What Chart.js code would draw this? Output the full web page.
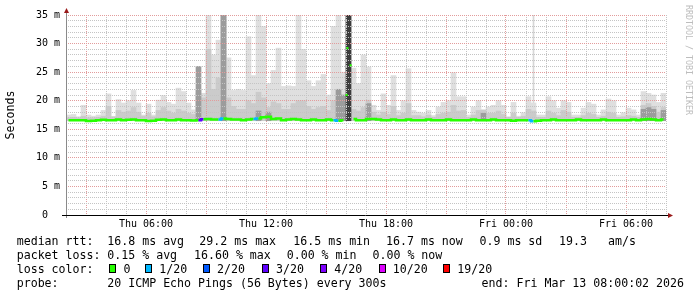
<!DOCTYPE html>
<html lang="en">
<head>
    <meta charset="UTF-8">
    <script src="https://cdn.jsdelivr.net/npm/chart.js@4.4.1/dist/chart.umd.min.js"></script>
    <title>SmokePing latency</title>
    <style>
        body { margin: 0; background: #fff; }
        #wrap { position: relative; width: 697px; height: 297px; font-family: "DejaVu Sans Mono", monospace; }
        #chart { position: absolute; left: 0; top: 0; }
        .t { position: absolute; font-size: 11.6px; line-height: 14px; white-space: pre; color: #000; }
        .box { position: absolute; width: 5px; height: 7px; border: 1px solid #000; }
        .wm { position: absolute; left: 684px; top: 5px; font-size: 8.3px; color: #bdbdbd; writing-mode: vertical-rl; white-space: pre; }
    </style>
</head>
<body>
<div id="wrap">
    <canvas id="chart"></canvas>
    <div class="wm">RRDTOOL / TOBI OETIKER</div>

    <div class="t" style="left:16.7px;top:234.3px">median rtt:</div>
    <div class="t" style="left:107.3px;top:234.3px">16.8 ms avg</div>
    <div class="t" style="left:199.3px;top:234.3px">29.2 ms max</div>
    <div class="t" style="left:293.3px;top:234.3px">16.5 ms min</div>
    <div class="t" style="left:386px;top:234.3px">16.7 ms now</div>
    <div class="t" style="left:479.5px;top:234.3px">0.9 ms sd</div>
    <div class="t" style="left:559px;top:234.3px">19.3</div>
    <div class="t" style="left:608px;top:234.3px">am/s</div>

    <div class="t" style="left:16.7px;top:248.3px">packet loss:</div>
    <div class="t" style="left:107.3px;top:248.3px">0.15 % avg</div>
    <div class="t" style="left:194px;top:248.3px">16.60 % max</div>
    <div class="t" style="left:286.7px;top:248.3px">0.00 % min</div>
    <div class="t" style="left:372.5px;top:248.3px">0.00 % now</div>

    <div class="t" style="left:16.7px;top:262.3px">loss color:</div>
    <div id="lossLegend"></div>

    <div class="t" style="left:16.7px;top:276.3px">probe:</div>
    <div class="t" style="left:107.3px;top:276.3px">20 ICMP Echo Pings (56 Bytes) every 300s</div>
    <div class="t" style="right:13px;top:276.3px">end: Fri Mar 13 08:00:02 2026</div>
</div>

<script>
    // 15 minute bins from Thu 02:00 to Fri 08:00 (30 h)
    const startHour = 2;
    const spanHours = 30;
    const smokeFloor = 16.5;

    const median = [
        16.6,16.6,16.6,16.6,16.45,16.5,16.6,16.65,16.6,16.6,
        16.7,16.6,16.65,16.7,16.6,16.6,16.45,16.5,16.65,16.7,
        16.6,16.6,16.7,16.6,16.6,16.55,16.6,16.75,16.8,16.7,
        16.7,16.9,16.8,16.7,16.7,16.6,16.7,16.8,16.9,17.1,
        17.2,16.8,16.9,16.6,16.7,16.8,16.7,16.6,16.6,16.7,
        16.6,16.6,16.7,16.6,16.5,16.6,null,16.8,16.6,16.6,
        16.8,16.8,16.7,16.6,16.6,16.7,16.6,16.6,16.7,16.6,
        16.6,16.6,16.7,16.6,16.6,16.6,16.7,16.6,16.6,16.6,
        16.6,16.7,16.6,16.6,16.6,16.7,16.6,16.6,16.6,16.5,
        16.6,16.6,16.6,16.4,16.5,16.6,16.6,16.7,16.6,16.6,
        16.6,16.6,16.7,16.6,16.6,16.6,16.6,16.7,16.6,16.6,
        16.6,16.6,16.6,16.7,16.6,16.7,16.8,16.7,16.6,16.7
    ];

    // highest ping per bin (light smoke)
    const smokeMax = [
        17.5,17.6,17.2,19.2,17.5,17.3,17.5,18.3,21.2,17.2,
        20.2,19.6,20.0,21.8,19.6,17.5,19.4,17.5,20.1,20.9,
        19.7,19.4,22.2,21.6,19.6,18.4,21.3,21.3,35,28,
        30.6,35,27.5,21.8,22.0,21.8,31.2,24.4,35,33,
        23,25.3,29.2,22.5,22.6,22.5,35,29,23.5,22.5,
        23.5,24.6,21,33,35,25,35,25.7,23,28,
        25.9,19.2,18.3,21.2,19.2,24.4,18.3,20,25.6,18.3,
        18.0,17.8,18.3,17.4,18.9,19.7,20,24.9,20.7,20.7,
        17.5,18.9,20,18.3,18.9,19.2,20,19.2,17.2,19.7,
        17.3,17.9,20.7,19.6,17.5,17.5,20.7,20,18.7,20,
        19.7,17.5,17.5,18.7,19.7,19.4,17.5,18.4,20.3,20,
        17.5,17.9,18.7,18.4,17.5,21.6,21.3,21,19.7,21.3
    ];

    // upper pings (medium smoke)
    const smokeMid = [
        17.0,17.1,17.0,17.3,17.0,17.0,17.1,17.3,19.0,17.2,
        18.3,18.0,18.2,18.8,18.0,17.3,17.8,17.2,18.3,18.8,
        18.2,17.8,18.5,18.2,17.8,17.6,22,20.5,29,22,
        24,35,20.5,19,18.5,18.5,20,19.5,21.5,20.5,
        18.8,19.8,19.5,18.5,18.5,19.5,20,20,19,18.5,
        18.8,19,18.3,20,20.5,19,35,18.5,18.2,18.8,
        20.1,18.0,17.5,18,17.6,19,17.4,17.8,19.5,17.4,
        17.4,17.2,17.5,17.1,17.6,17.8,18,19.2,18.2,18.3,
        17.1,17.5,18.3,18.4,17.8,17.8,18.2,17.6,17.1,17.8,
        17.1,17.3,18.5,18.2,17.1,17.1,18.2,17.8,17.4,18.3,
        18,17.1,17.1,17.4,17.8,17.6,17.1,17.3,18,17.8,
        17.1,17.2,17.4,17.3,17.1,19.2,19.5,19,18,18.8
    ];

    // dense smoke where most pings were slow
    const darkBins = [26, 31, 38, 40, 54, 55, 60, 83, 115, 116, 117, 119];
    const darkTop  = [26, 35, 18.2, 18.0, 22, 21, 19.5, 17.8, 18.5, 18.8, 18.5, 18.3];
    const blackBins = [56];
    const blackTop  = [35];
    const thinBins = [93];
    const thinTop  = [35];

    // median values inside the spike bin (hours since start)
    const spikeHours = [14.03, 14.07, 14.23];
    const spikeMedian = [21, 29.2, 26.2];

    const lossLabels = ['0', '1/20', '2/20', '3/20', '4/20', '10/20', '19/20'];
    const lossColors = ['#26ff00', '#00b8ff', '#0059ff', '#5e00ff', '#7e00ff', '#dd00ff', '#ff0000'];
    const lossBins  = [26, 30, 37, 53, 92];
    const lossLevel = [3, 1, 1, 1, 1];

    const binLabels = smokeMax.map((v, i) => i);
    const sparse = (bins, tops) => binLabels.map(i => {
        const k = bins.indexOf(i);
        return k < 0 ? null : tops[k];
    });
    const lossAt = i => {
        const k = lossBins.indexOf(i);
        return k < 0 ? 0 : lossLevel[k];
    };

    // loss color legend
    const boxX = [109.3, 145, 202.7, 261.7, 320, 378.5, 443];
    const legend = document.getElementById('lossLegend');
    lossLabels.forEach((lab, i) => {
        const b = document.createElement('div');
        b.className = 'box';
        b.style.left = boxX[i] + 'px';
        b.style.top = '263.5px';
        b.style.background = lossColors[i];
        legend.appendChild(b);
        const t = document.createElement('div');
        t.className = 't';
        t.style.left = (boxX[i] + 14.3) + 'px';
        t.style.top = '262.3px';
        t.textContent = lab;
        legend.appendChild(t);
    });

    function smokeBars(tops, color, order, extra) {
        return Object.assign({
            type: 'bar',
            data: tops.map(v => v == null ? null : [smokeFloor, v]),
            backgroundColor: color,
            borderWidth: 0,
            grouped: false,
            barPercentage: 1,
            categoryPercentage: 1,
            order: order,
            xAxisID: 'x',
            yAxisID: 'y'
        }, extra || {});
    }

    const majorGrid = '#e29c9c';
    const minorGrid = '#c4c4c4';

    const gridOnTop = {
        id: 'gridOnTop',
        beforeDraw(chart) { chart.$gridDone = false; },
        beforeDatasetDraw(chart, args) {
            if (args.meta.type !== 'line' || chart.$gridDone) return;
            chart.$gridDone = true;
            chart.scales.xt.drawGrid(chart.chartArea);
            chart.scales.y.drawGrid(chart.chartArea);
        }
    };

    const axes = {
        id: 'axes',
        afterDraw(chart) {
            const ctx = chart.ctx, a = chart.chartArea;
            ctx.save();
            ctx.lineWidth = 1;
            ctx.strokeStyle = '#8a8a8a';
            ctx.beginPath();
            ctx.moveTo(a.left + 0.5, a.bottom + 3);
            ctx.lineTo(a.left + 0.5, a.top - 3);
            ctx.stroke();
            ctx.strokeStyle = '#000';
            ctx.beginPath();
            ctx.moveTo(a.left - 4, a.bottom + 0.5);
            ctx.lineTo(a.right + 3, a.bottom + 0.5);
            ctx.stroke();
            ctx.fillStyle = '#9a1a1a';
            ctx.beginPath();
            ctx.moveTo(a.left - 2, a.top - 2);
            ctx.lineTo(a.left + 3, a.top - 2);
            ctx.lineTo(a.left + 0.5, a.top - 7);
            ctx.closePath();
            ctx.fill();
            ctx.beginPath();
            ctx.moveTo(a.right + 2, a.bottom - 2);
            ctx.lineTo(a.right + 2, a.bottom + 3);
            ctx.lineTo(a.right + 7, a.bottom + 0.5);
            ctx.closePath();
            ctx.fill();
            ctx.restore();
        }
    };

    Chart.defaults.font.family = '"DejaVu Sans Mono", monospace';

    new Chart(document.getElementById('chart'), {
        type: 'bar',
        data: {
            labels: binLabels,
            datasets: [
                {
                    type: 'line',
                    data: spikeHours.map((h, i) => ({ x: h, y: spikeMedian[i] })),
                    showLine: false,
                    pointStyle: 'rect',
                    pointRadius: 1.5,
                    pointBackgroundColor: lossColors[0],
                    pointBorderWidth: 0,
                    xAxisID: 'xt',
                    yAxisID: 'y',
                    order: 0
                },
                {
                    type: 'line',
                    data: median.map((v, i) => ({ x: (i + 0.5) / 4, y: v })),
                    borderColor: lossColors[0],
                    borderWidth: 2.5,
                    pointRadius: 0,
                    stepped: 'middle',
                    spanGaps: false,
                    segment: {
                        borderColor: c => lossColors[lossAt(c.p0DataIndex)]
                    },
                    xAxisID: 'xt',
                    yAxisID: 'y',
                    order: 1
                },
                smokeBars(sparse(blackBins, blackTop), '#3c3c3c', 2),
                smokeBars(sparse(darkBins, darkTop), '#9c9c9c', 3),
                smokeBars(smokeMid, '#cbcbcb', 4),
                smokeBars(smokeMax, '#dfdfdf', 5),
                smokeBars(sparse(thinBins, thinTop), '#d6d6d6', 6, { barThickness: 1 })
            ]
        },
        options: {
            responsive: true,
            maintainAspectRatio: false,
            animation: false,
            devicePixelRatio: 1,
            layout: { padding: { left: 0, top: 15, right: 31, bottom: 62 } },
            plugins: { legend: { display: false }, tooltip: { enabled: false } },
            scales: {
                x: {
                    type: 'category',
                    display: false,
                    offset: true
                },
                xt: {
                    type: 'linear',
                    position: 'bottom',
                    offset: false,
                    min: 0,
                    max: spanHours,
                    afterFit: s => { s.height = 20; },
                    grid: {
                        offset: false,
                        drawTicks: false,
                        color: c => (c.tick && (c.tick.value + startHour) % 3 === 0) ? majorGrid : minorGrid
                    },
                    border: { display: false, dash: [1, 1] },
                    ticks: {
                        stepSize: 1,
                        autoSkip: false,
                        maxRotation: 0,
                        padding: 3,
                        color: '#000',
                        font: { size: 10 },
                        callback: v => {
                            const h = v + startHour;
                            if (h % 6 !== 0) return '';
                            const day = h >= 24 ? 'Fri' : 'Thu';
                            return day + ' ' + String(h % 24).padStart(2, '0') + ':00';
                        }
                    }
                },
                y: {
                    min: 0,
                    max: 35,
                    afterFit: s => { s.width = 66; },
                    grid: {
                        drawTicks: false,
                        color: c => (c.tick && c.tick.value % 5 === 0) ? majorGrid : minorGrid
                    },
                    border: { display: false, dash: [1, 1] },
                    ticks: {
                        stepSize: 1,
                        autoSkip: false,
                        padding: 6,
                        color: '#000',
                        font: { size: 10 },
                        callback: v => v % 5 !== 0 ? '' : (v === 0 ? '0  ' : v + ' m')
                    },
                    title: {
                        display: true,
                        text: 'Seconds',
                        color: '#000',
                        font: { size: 11.6 },
                        padding: { top: 4, bottom: 0 }
                    }
                }
            }
        },
        plugins: [gridOnTop, axes]
    });
</script>
</body>
</html>
